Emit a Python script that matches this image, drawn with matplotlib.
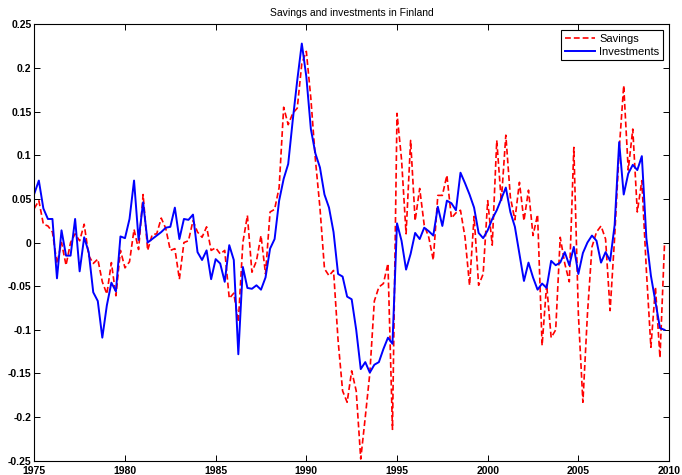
import matplotlib
matplotlib.use('Agg')
import matplotlib.pyplot as plt
import numpy as np

plt.rcParams['font.family'] = ['Liberation Sans', 'DejaVu Sans']

# quarterly series, 1975Q1 .. 2009Q4
savings = [
    0.039, 0.048, 0.021, 0.019, 0.012, -0.024, 0.000, -0.026, 0.000, 0.010,
    0.002, 0.021, -0.015, -0.024, -0.019, -0.045, -0.059, -0.023, -0.061, -0.009,
    -0.029, -0.022, 0.015, -0.008, 0.055, -0.009, 0.009, 0.010, 0.028, 0.016,
    -0.009, -0.007, -0.042, 0.000, 0.002, 0.025, 0.012, 0.006, 0.018, -0.009,
    -0.006, -0.013, -0.009, -0.064, -0.058, -0.091, 0.000, 0.031, -0.034, -0.021,
    0.008, -0.036, 0.035, 0.038, 0.063, 0.155, 0.135, 0.148, 0.154, 0.205,
    0.219, 0.165, 0.095, 0.040, -0.030, -0.038, -0.032, -0.112, -0.170, -0.183,
    -0.147, -0.170, -0.248, -0.200, -0.150, -0.067, -0.051, -0.047, -0.024, -0.214,
    0.148, 0.095, 0.010, 0.117, 0.025, 0.062, 0.020, 0.006, -0.020, 0.054,
    0.054, 0.077, 0.028, 0.034, 0.037, 0.006, -0.049, 0.030, -0.049, -0.036,
    0.048, -0.003, 0.117, 0.047, 0.123, 0.052, 0.026, 0.069, 0.025, 0.060,
    0.008, 0.032, -0.118, -0.048, -0.109, -0.100, 0.006, -0.024, -0.045, 0.109,
    -0.082, -0.183, -0.082, -0.005, 0.012, 0.019, 0.004, -0.078, 0.006, 0.106,
    0.180, 0.083, 0.130, 0.035, 0.071, -0.032, -0.120, -0.051, -0.132, -0.002,
]
investments = [
    0.056, 0.071, 0.039, 0.027, 0.027, -0.041, 0.014, -0.015, -0.015, 0.027,
    -0.033, 0.006, -0.011, -0.057, -0.067, -0.109, -0.072, -0.046, -0.056, 0.007,
    0.005, 0.027, 0.071, 0.003, 0.046, 0.000, 0.004, 0.008, 0.012, 0.017,
    0.018, 0.040, 0.004, 0.027, 0.026, 0.032, -0.011, -0.020, -0.009, -0.042,
    -0.019, -0.024, -0.045, -0.003, -0.020, -0.128, -0.028, -0.052, -0.053, -0.049,
    -0.054, -0.040, -0.007, 0.004, 0.048, 0.073, 0.090, 0.140, 0.186, 0.228,
    0.190, 0.130, 0.102, 0.086, 0.055, 0.040, 0.012, -0.036, -0.039, -0.062,
    -0.065, -0.100, -0.145, -0.137, -0.149, -0.140, -0.137, -0.122, -0.109, -0.116,
    0.022, 0.002, -0.031, -0.013, 0.011, 0.004, 0.017, 0.013, 0.008, 0.041,
    0.019, 0.048, 0.045, 0.037, 0.080, 0.068, 0.055, 0.040, 0.011, 0.005,
    0.014, 0.027, 0.037, 0.050, 0.063, 0.035, 0.018, -0.013, -0.044, -0.023,
    -0.040, -0.054, -0.047, -0.052, -0.021, -0.026, -0.023, -0.011, -0.026, -0.005,
    -0.036, -0.012, 0.000, 0.008, 0.002, -0.023, -0.011, -0.021, 0.020, 0.115,
    0.055, 0.079, 0.089, 0.083, 0.099, 0.005, -0.038, -0.068, -0.098, -0.100,
]
years = 1975 + np.arange(len(savings)) / 4

xticks = [1975, 1980, 1985, 1990, 1995, 2000, 2005, 2010]
yticks = [-0.25, -0.2, -0.15, -0.1, -0.05, 0, 0.05, 0.1, 0.15, 0.2, 0.25]
ytick_labels = ['-0.25', '-0.2', '-0.15', '-0.1', '-0.05', '0',
                '0.05', '0.1', '0.15', '0.2', '0.25']

fig = plt.figure(figsize=(6.82, 4.75), dpi=100)
ax = fig.add_axes([0.0503, 0.030, 0.9307, 0.9188])

ax.plot(years, savings, color='red', ls='--', lw=1.2, dashes=(3.5, 1.8), label='Savings')
ax.plot(years, investments, color='blue', lw=1.4, label='Investments')

ax.set_xlim(1975, 2010)
ax.set_ylim(-0.25, 0.25)
ax.set_xticks(xticks)
ax.set_xticklabels([str(t) for t in xticks], fontsize=7.5, fontweight='bold')
ax.set_yticks(yticks)
ax.set_yticklabels(ytick_labels, fontsize=7.5, fontweight='bold')
ax.tick_params(direction='in', length=4, width=0.7, top=True, right=True)
ax.tick_params(axis='x', pad=3.5)
ax.tick_params(axis='y', pad=2)
for s in ax.spines.values():
    s.set_linewidth(0.8)

ax.set_title('Savings and investments in Finland', fontsize=7.5, pad=6)

leg = ax.legend(loc='upper right', fontsize=8, fancybox=False, edgecolor='black',
                framealpha=1, handlelength=2.7, borderaxespad=0.5,
                labelspacing=0.25, borderpad=0.35, handletextpad=0.4)
leg.get_frame().set_linewidth(0.8)

fig.savefig('out.png', dpi=100)
